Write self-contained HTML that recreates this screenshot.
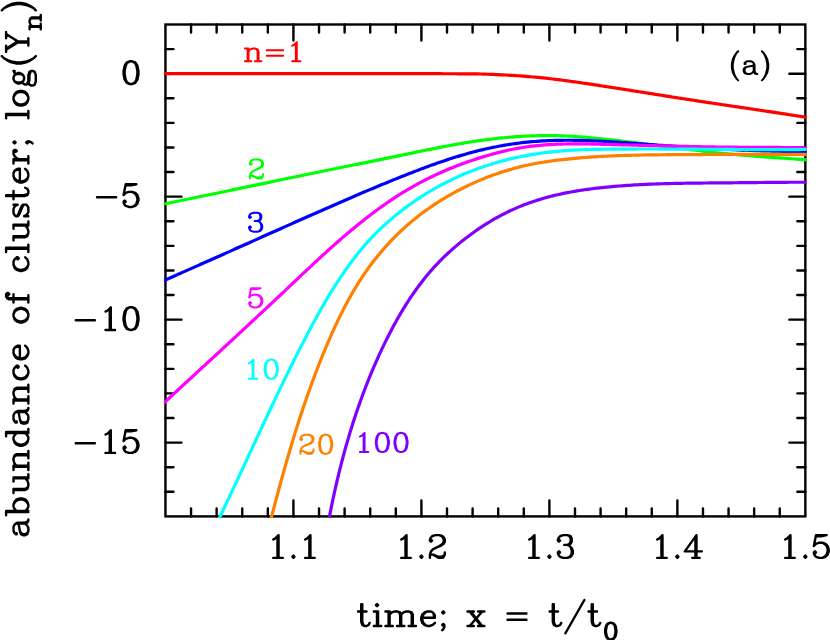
<!DOCTYPE html>
<html><head><meta charset="utf-8"><title>abundance of cluster</title>
<style>html,body{margin:0;padding:0;background:#fff;font-family:"Liberation Sans",sans-serif}svg{display:block}</style></head>
<body>
<svg width="830" height="640" viewBox="0 0 830 640">
<rect width="830" height="640" fill="#fff"/>
<g fill="none" stroke="#000" stroke-width="2.4" stroke-linecap="butt">
<rect x="165.45" y="24.5" width="639.9" height="491.9" stroke-linejoin="miter"/>
<path d="M191.05 24.5 v8 M191.05 516.4 v-8M216.64 24.5 v8 M216.64 516.4 v-8M242.24 24.5 v8 M242.24 516.4 v-8M267.83 24.5 v8 M267.83 516.4 v-8M293.43 24.5 v16 M293.43 516.4 v-16M319.03 24.5 v8 M319.03 516.4 v-8M344.62 24.5 v8 M344.62 516.4 v-8M370.22 24.5 v8 M370.22 516.4 v-8M395.81 24.5 v8 M395.81 516.4 v-8M421.41 24.5 v16 M421.41 516.4 v-16M447.01 24.5 v8 M447.01 516.4 v-8M472.6 24.5 v8 M472.6 516.4 v-8M498.2 24.5 v8 M498.2 516.4 v-8M523.79 24.5 v8 M523.79 516.4 v-8M549.39 24.5 v16 M549.39 516.4 v-16M574.99 24.5 v8 M574.99 516.4 v-8M600.58 24.5 v8 M600.58 516.4 v-8M626.18 24.5 v8 M626.18 516.4 v-8M651.77 24.5 v8 M651.77 516.4 v-8M677.37 24.5 v16 M677.37 516.4 v-16M702.97 24.5 v8 M702.97 516.4 v-8M728.56 24.5 v8 M728.56 516.4 v-8M754.16 24.5 v8 M754.16 516.4 v-8M779.75 24.5 v8 M779.75 516.4 v-8M165.45 491.8 h8 M805.35 491.8 h-8M165.45 467.21 h8 M805.35 467.21 h-8M165.45 442.61 h16 M805.35 442.61 h-16M165.45 418.02 h8 M805.35 418.02 h-8M165.45 393.42 h8 M805.35 393.42 h-8M165.45 368.83 h8 M805.35 368.83 h-8M165.45 344.24 h8 M805.35 344.24 h-8M165.45 319.64 h16 M805.35 319.64 h-16M165.45 295.05 h8 M805.35 295.05 h-8M165.45 270.45 h8 M805.35 270.45 h-8M165.45 245.85 h8 M805.35 245.85 h-8M165.45 221.26 h8 M805.35 221.26 h-8M165.45 196.66 h16 M805.35 196.66 h-16M165.45 172.07 h8 M805.35 172.07 h-8M165.45 147.47 h8 M805.35 147.47 h-8M165.45 122.88 h8 M805.35 122.88 h-8M165.45 98.28 h8 M805.35 98.28 h-8M165.45 73.69 h16 M805.35 73.69 h-16M165.45 49.09 h8 M805.35 49.09 h-8" stroke-linecap="round"/>
</g>
<defs><clipPath id="c"><rect x="164.2" y="23.25" width="642.4" height="494.4"/></clipPath></defs>
<g clip-path="url(#c)" fill="none" stroke-width="3.2" stroke-linejoin="round" stroke-linecap="butt">
<path d="M161.45 73.7 L163.94 73.7 L166.44 73.7 L168.93 73.7 L171.43 73.7 L173.92 73.7 L176.41 73.7 L178.91 73.7 L181.4 73.7 L183.9 73.7 L186.39 73.7 L188.89 73.7 L191.38 73.7 L193.87 73.7 L196.37 73.7 L198.86 73.7 L201.36 73.7 L203.85 73.7 L206.34 73.7 L208.84 73.7 L211.33 73.7 L213.83 73.7 L216.32 73.7 L218.81 73.7 L221.31 73.7 L223.8 73.7 L226.3 73.7 L228.79 73.7 L231.29 73.7 L233.78 73.7 L236.27 73.7 L238.77 73.7 L241.26 73.7 L243.76 73.7 L246.25 73.7 L248.74 73.7 L251.24 73.7 L253.73 73.7 L256.23 73.7 L258.72 73.7 L261.22 73.7 L263.71 73.7 L266.2 73.7 L268.7 73.7 L271.19 73.7 L273.69 73.7 L276.18 73.7 L278.67 73.7 L281.17 73.7 L283.66 73.7 L286.16 73.7 L288.65 73.7 L291.14 73.7 L293.64 73.7 L296.13 73.7 L298.63 73.7 L301.12 73.7 L303.62 73.7 L306.11 73.7 L308.6 73.7 L311.1 73.7 L313.59 73.7 L316.09 73.7 L318.58 73.7 L321.07 73.7 L323.57 73.7 L326.06 73.7 L328.56 73.7 L331.05 73.7 L333.54 73.7 L336.04 73.7 L338.53 73.7 L341.03 73.7 L343.52 73.7 L346.02 73.7 L348.51 73.7 L351 73.7 L353.5 73.7 L355.99 73.7 L358.49 73.7 L360.98 73.7 L363.47 73.7 L365.97 73.7 L368.46 73.7 L370.96 73.7 L373.45 73.7 L375.94 73.7 L378.44 73.7 L380.93 73.7 L383.43 73.7 L385.92 73.7 L388.42 73.7 L390.91 73.7 L393.4 73.7 L395.9 73.7 L398.39 73.7 L400.89 73.7 L403.38 73.7 L405.87 73.7 L408.37 73.7 L410.86 73.7 L413.36 73.7 L415.85 73.7 L418.35 73.7 L420.84 73.7 L423.33 73.7 L425.83 73.7 L428.32 73.7 L430.82 73.71 L433.31 73.71 L435.8 73.71 L438.3 73.72 L440.79 73.72 L443.29 73.73 L445.78 73.74 L448.28 73.74 L450.77 73.75 L453.26 73.76 L455.76 73.77 L458.25 73.78 L460.75 73.79 L463.24 73.8 L465.73 73.81 L468.23 73.82 L470.72 73.84 L473.21 73.86 L475.71 73.9 L478.2 73.95 L480.7 74.02 L483.19 74.09 L485.68 74.17 L488.18 74.26 L490.67 74.36 L493.16 74.46 L495.65 74.57 L498.15 74.68 L500.64 74.79 L503.13 74.9 L505.62 75.01 L508.11 75.14 L510.6 75.28 L513.09 75.43 L515.58 75.6 L518.07 75.77 L520.56 75.95 L523.04 76.15 L525.53 76.35 L528.02 76.55 L530.5 76.76 L532.99 76.98 L535.47 77.2 L537.95 77.43 L540.44 77.66 L542.92 77.91 L545.4 78.17 L547.87 78.44 L550.35 78.73 L552.83 79.03 L555.31 79.33 L557.78 79.64 L560.26 79.96 L562.73 80.28 L565.2 80.61 L567.68 80.94 L570.15 81.26 L572.62 81.59 L575.09 81.93 L577.56 82.27 L580.03 82.62 L582.5 82.97 L584.97 83.33 L587.44 83.7 L589.9 84.07 L592.37 84.45 L594.84 84.82 L597.3 85.2 L599.77 85.58 L602.23 85.96 L604.7 86.33 L607.16 86.71 L609.63 87.09 L612.09 87.47 L614.56 87.85 L617.02 88.23 L619.49 88.62 L621.95 89.01 L624.41 89.4 L626.88 89.79 L629.34 90.18 L631.8 90.57 L634.27 90.96 L636.73 91.35 L639.19 91.74 L641.66 92.13 L644.12 92.52 L646.58 92.91 L649.05 93.3 L651.51 93.7 L653.97 94.09 L656.44 94.48 L658.9 94.88 L661.36 95.27 L663.83 95.66 L666.29 96.05 L668.75 96.44 L671.22 96.83 L673.68 97.22 L676.14 97.61 L678.61 97.99 L681.07 98.38 L683.54 98.76 L686 99.14 L688.47 99.53 L690.93 99.91 L693.4 100.29 L695.86 100.67 L698.33 101.05 L700.79 101.42 L703.26 101.8 L705.72 102.17 L708.19 102.55 L710.65 102.92 L713.12 103.29 L715.59 103.66 L718.05 104.03 L720.52 104.39 L722.99 104.76 L725.46 105.12 L727.92 105.49 L730.39 105.85 L732.86 106.21 L735.33 106.58 L737.79 106.94 L740.26 107.31 L742.73 107.67 L745.19 108.04 L747.66 108.4 L750.13 108.77 L752.6 109.13 L755.06 109.5 L757.53 109.86 L760 110.23 L762.47 110.59 L764.93 110.96 L767.4 111.33 L769.87 111.7 L772.33 112.07 L774.8 112.44 L777.26 112.82 L779.73 113.19 L782.2 113.57 L784.66 113.95 L787.13 114.33 L789.59 114.72 L792.05 115.1 L794.52 115.48 L796.98 115.87 L799.45 116.26 L801.91 116.65 L804.37 117.04 L806.84 117.43 L809.3 117.82" stroke="#ff0000"/>
<path d="M161.5 204.53 L163.94 204.04 L166.38 203.54 L168.82 203.04 L171.27 202.55 L173.71 202.05 L176.15 201.55 L178.59 201.05 L181.03 200.55 L183.48 200.05 L185.92 199.55 L188.36 199.05 L190.8 198.55 L193.24 198.04 L195.68 197.54 L198.13 197.04 L200.57 196.53 L203.01 196.03 L205.45 195.52 L207.89 195.02 L210.33 194.51 L212.77 194 L215.22 193.5 L217.66 192.99 L220.1 192.48 L222.54 191.98 L224.98 191.47 L227.42 190.96 L229.86 190.45 L232.31 189.94 L234.75 189.44 L237.19 188.93 L239.63 188.42 L242.07 187.91 L244.51 187.4 L246.95 186.89 L249.4 186.38 L251.84 185.87 L254.28 185.37 L256.72 184.86 L259.16 184.35 L261.6 183.84 L264.04 183.33 L266.49 182.82 L268.93 182.32 L271.37 181.81 L273.81 181.3 L276.25 180.79 L278.69 180.29 L281.13 179.78 L283.58 179.27 L286.02 178.77 L288.46 178.26 L290.9 177.76 L293.34 177.25 L295.78 176.75 L298.22 176.24 L300.67 175.74 L303.11 175.24 L305.55 174.74 L307.99 174.23 L310.43 173.73 L312.87 173.23 L315.32 172.73 L317.76 172.23 L320.2 171.73 L322.64 171.24 L325.08 170.74 L327.52 170.24 L329.97 169.75 L332.41 169.25 L334.85 168.76 L337.29 168.26 L339.73 167.77 L342.17 167.27 L344.62 166.78 L347.06 166.28 L349.5 165.79 L351.94 165.3 L354.38 164.8 L356.83 164.31 L359.27 163.81 L361.71 163.32 L364.15 162.83 L366.6 162.33 L369.04 161.84 L371.48 161.34 L373.92 160.84 L376.37 160.35 L378.81 159.85 L381.25 159.35 L383.69 158.86 L386.14 158.36 L388.58 157.86 L391.02 157.36 L393.47 156.85 L395.91 156.35 L398.35 155.85 L400.8 155.34 L403.24 154.84 L405.68 154.33 L408.13 153.83 L410.57 153.32 L413.01 152.81 L415.46 152.31 L417.9 151.8 L420.35 151.3 L422.8 150.8 L425.24 150.3 L427.69 149.81 L430.14 149.32 L432.58 148.83 L435.03 148.34 L437.48 147.86 L439.93 147.38 L442.38 146.91 L444.83 146.45 L447.28 145.98 L449.74 145.53 L452.19 145.08 L454.65 144.64 L457.1 144.2 L459.56 143.77 L462.02 143.35 L464.48 142.94 L466.94 142.54 L469.4 142.14 L471.86 141.76 L474.33 141.38 L476.79 141.01 L479.26 140.66 L481.73 140.31 L484.19 139.98 L486.67 139.65 L489.14 139.34 L491.61 139.04 L494.09 138.75 L496.56 138.48 L499.04 138.21 L501.52 137.96 L504 137.72 L506.48 137.49 L508.96 137.27 L511.44 137.07 L513.93 136.87 L516.41 136.7 L518.9 136.53 L521.38 136.38 L523.87 136.24 L526.35 136.11 L528.84 136 L531.33 135.9 L533.82 135.81 L536.31 135.74 L538.8 135.69 L541.29 135.64 L543.78 135.61 L546.27 135.6 L548.76 135.6 L551.25 135.61 L553.74 135.64 L556.23 135.69 L558.72 135.74 L561.21 135.82 L563.7 135.91 L566.19 136.01 L568.68 136.13 L571.17 136.27 L573.66 136.42 L576.15 136.58 L578.63 136.75 L581.12 136.94 L583.61 137.14 L586.1 137.35 L588.58 137.56 L591.07 137.79 L593.56 138.02 L596.04 138.27 L598.53 138.51 L601.01 138.77 L603.49 139.03 L605.98 139.29 L608.46 139.56 L610.94 139.83 L613.42 140.11 L615.9 140.38 L618.38 140.66 L620.86 140.95 L623.34 141.23 L625.82 141.52 L628.3 141.81 L630.78 142.11 L633.25 142.41 L635.73 142.7 L638.21 143.01 L640.68 143.31 L643.16 143.61 L645.63 143.92 L648.11 144.23 L650.58 144.54 L653.05 144.85 L655.53 145.17 L658 145.48 L660.47 145.8 L662.95 146.11 L665.42 146.43 L667.89 146.75 L670.36 147.07 L672.84 147.38 L675.31 147.7 L677.78 148.01 L680.25 148.33 L682.72 148.64 L685.2 148.95 L687.67 149.26 L690.14 149.57 L692.61 149.87 L695.09 150.17 L697.56 150.47 L700.03 150.77 L702.51 151.06 L704.98 151.35 L707.46 151.64 L709.93 151.92 L712.41 152.2 L714.88 152.47 L717.36 152.74 L719.84 153.01 L722.32 153.26 L724.8 153.52 L727.28 153.76 L729.76 154.01 L732.24 154.24 L734.72 154.47 L737.2 154.69 L739.68 154.91 L742.17 155.12 L744.65 155.33 L747.14 155.53 L749.62 155.73 L752.11 155.92 L754.6 156.11 L757.08 156.3 L759.57 156.49 L762.06 156.67 L764.54 156.85 L767.03 157.03 L769.52 157.21 L772.01 157.38 L774.5 157.56 L776.98 157.74 L779.47 157.91 L781.96 158.09 L784.45 158.27 L786.94 158.45 L789.42 158.63 L791.91 158.81 L794.4 158.99 L796.88 159.18 L799.37 159.37 L801.85 159.56 L804.34 159.76 L806.82 159.96 L809.3 160.17" stroke="#00ff00"/>
<path d="M161.79 281.42 L164.09 280.42 L166.38 279.42 L168.67 278.42 L170.96 277.42 L173.25 276.42 L175.54 275.42 L177.83 274.41 L180.12 273.41 L182.41 272.4 L184.7 271.4 L186.99 270.39 L189.27 269.38 L191.56 268.37 L193.85 267.36 L196.13 266.35 L198.42 265.34 L200.71 264.32 L202.99 263.31 L205.28 262.3 L207.56 261.28 L209.85 260.27 L212.13 259.25 L214.41 258.24 L216.7 257.22 L218.98 256.2 L221.27 255.18 L223.55 254.17 L225.83 253.15 L228.11 252.13 L230.4 251.11 L232.68 250.09 L234.96 249.07 L237.24 248.05 L239.53 247.03 L241.81 246.01 L244.09 244.99 L246.37 243.97 L248.65 242.95 L250.93 241.93 L253.22 240.91 L255.5 239.89 L257.78 238.87 L260.06 237.85 L262.34 236.83 L264.62 235.81 L266.9 234.79 L269.18 233.77 L271.47 232.75 L273.75 231.73 L276.03 230.71 L278.31 229.7 L280.59 228.68 L282.87 227.66 L285.16 226.64 L287.44 225.62 L289.72 224.61 L292 223.59 L294.29 222.58 L296.57 221.56 L298.85 220.55 L301.13 219.53 L303.42 218.52 L305.7 217.51 L307.99 216.5 L310.27 215.48 L312.55 214.47 L314.84 213.47 L317.12 212.46 L319.41 211.45 L321.69 210.44 L323.98 209.44 L326.27 208.43 L328.55 207.43 L330.84 206.43 L333.13 205.42 L335.42 204.42 L337.71 203.43 L340 202.43 L342.29 201.43 L344.58 200.44 L346.87 199.45 L349.17 198.46 L351.46 197.47 L353.76 196.48 L356.05 195.5 L358.35 194.52 L360.65 193.54 L362.95 192.56 L365.25 191.58 L367.55 190.61 L369.86 189.64 L372.16 188.67 L374.47 187.71 L376.78 186.74 L379.09 185.78 L381.4 184.82 L383.71 183.87 L386.03 182.92 L388.34 181.97 L390.66 181.02 L392.98 180.08 L395.3 179.14 L397.63 178.21 L399.96 177.27 L402.28 176.35 L404.61 175.42 L406.95 174.5 L409.28 173.58 L411.62 172.67 L413.96 171.77 L416.3 170.87 L418.64 169.97 L420.99 169.09 L423.34 168.21 L425.69 167.33 L428.04 166.47 L430.4 165.61 L432.76 164.76 L435.12 163.92 L437.48 163.09 L439.85 162.27 L442.22 161.46 L444.59 160.66 L446.97 159.87 L449.35 159.09 L451.73 158.32 L454.11 157.57 L456.5 156.83 L458.89 156.1 L461.29 155.38 L463.68 154.68 L466.08 153.99 L468.49 153.32 L470.9 152.66 L473.31 152.01 L475.72 151.38 L478.14 150.77 L480.56 150.17 L482.98 149.59 L485.41 149.03 L487.84 148.48 L490.28 147.95 L492.72 147.44 L495.16 146.95 L497.61 146.47 L500.06 146.01 L502.51 145.57 L504.96 145.15 L507.42 144.74 L509.88 144.35 L512.34 143.98 L514.81 143.63 L517.28 143.3 L519.75 142.98 L522.22 142.69 L524.7 142.41 L527.18 142.15 L529.66 141.91 L532.14 141.69 L534.62 141.48 L537.11 141.29 L539.6 141.12 L542.09 140.96 L544.58 140.83 L547.07 140.7 L549.56 140.6 L552.06 140.5 L554.55 140.43 L557.05 140.36 L559.55 140.31 L562.04 140.28 L564.54 140.26 L567.04 140.25 L569.54 140.25 L572.04 140.27 L574.54 140.3 L577.04 140.34 L579.54 140.39 L582.04 140.45 L584.54 140.52 L587.04 140.6 L589.54 140.69 L592.05 140.79 L594.55 140.9 L597.05 141.01 L599.55 141.14 L602.05 141.27 L604.55 141.4 L607.06 141.55 L609.56 141.69 L612.06 141.85 L614.56 142.01 L617.06 142.17 L619.56 142.34 L622.06 142.51 L624.57 142.69 L627.07 142.87 L629.57 143.05 L632.07 143.23 L634.57 143.41 L637.07 143.6 L639.57 143.78 L642.06 143.97 L644.56 144.16 L647.06 144.34 L649.56 144.53 L652.06 144.71 L654.55 144.89 L657.05 145.07 L659.55 145.25 L662.04 145.43 L664.54 145.6 L667.03 145.78 L669.53 145.95 L672.02 146.12 L674.51 146.29 L677.01 146.46 L679.5 146.62 L682 146.79 L684.49 146.95 L686.98 147.11 L689.47 147.27 L691.97 147.42 L694.46 147.58 L696.95 147.73 L699.44 147.88 L701.94 148.03 L704.43 148.17 L706.92 148.31 L709.41 148.45 L711.91 148.59 L714.4 148.73 L716.89 148.86 L719.38 148.99 L721.87 149.12 L724.37 149.24 L726.86 149.37 L729.35 149.49 L731.85 149.6 L734.34 149.72 L736.83 149.83 L739.33 149.94 L741.82 150.04 L744.31 150.15 L746.81 150.25 L749.3 150.34 L751.8 150.44 L754.29 150.53 L756.79 150.61 L759.28 150.7 L761.78 150.78 L764.28 150.85 L766.78 150.93 L769.27 151 L771.77 151.07 L774.27 151.13 L776.77 151.19 L779.27 151.25 L781.77 151.3 L784.27 151.35 L786.77 151.39 L789.27 151.43 L791.78 151.47 L794.28 151.51 L796.78 151.54 L799.29 151.56 L801.79 151.58 L804.3 151.6 L806.81 151.62 L809.31 151.63" stroke="#0000ff"/>
<path d="M162.46 404.28 L164.3 402.59 L166.13 400.89 L167.96 399.2 L169.8 397.5 L171.63 395.81 L173.46 394.12 L175.3 392.42 L177.13 390.73 L178.96 389.04 L180.8 387.35 L182.63 385.65 L184.47 383.96 L186.3 382.27 L188.14 380.58 L189.97 378.89 L191.81 377.2 L193.64 375.5 L195.48 373.81 L197.31 372.12 L199.15 370.43 L200.98 368.74 L202.82 367.05 L204.66 365.35 L206.49 363.66 L208.33 361.97 L210.16 360.28 L211.99 358.59 L213.83 356.89 L215.66 355.2 L217.5 353.51 L219.33 351.82 L221.17 350.12 L223 348.43 L224.83 346.74 L226.67 345.04 L228.5 343.35 L230.33 341.65 L232.16 339.96 L233.99 338.26 L235.83 336.57 L237.66 334.87 L239.49 333.18 L241.32 331.48 L243.15 329.78 L244.98 328.08 L246.81 326.39 L248.64 324.69 L250.46 322.99 L252.29 321.29 L254.12 319.59 L255.94 317.89 L257.77 316.19 L259.6 314.48 L261.42 312.78 L263.24 311.08 L265.07 309.37 L266.89 307.67 L268.71 305.96 L270.53 304.26 L272.35 302.55 L274.17 300.84 L275.99 299.13 L277.81 297.42 L279.63 295.71 L281.45 294 L283.26 292.29 L285.08 290.58 L286.89 288.86 L288.71 287.15 L290.52 285.43 L292.33 283.72 L294.15 282 L295.96 280.29 L297.77 278.57 L299.59 276.86 L301.4 275.14 L303.22 273.43 L305.03 271.72 L306.85 270.01 L308.67 268.3 L310.49 266.6 L312.32 264.9 L314.14 263.2 L315.97 261.5 L317.8 259.8 L319.64 258.11 L321.47 256.42 L323.31 254.74 L325.16 253.06 L327.01 251.38 L328.86 249.71 L330.71 248.04 L332.57 246.38 L334.44 244.72 L336.31 243.07 L338.18 241.43 L340.06 239.79 L341.94 238.15 L343.83 236.52 L345.73 234.9 L347.63 233.29 L349.54 231.68 L351.45 230.08 L353.37 228.49 L355.3 226.9 L357.24 225.32 L359.18 223.75 L361.13 222.19 L363.08 220.64 L365.05 219.1 L367.02 217.56 L369 216.04 L370.99 214.52 L372.98 213.01 L374.98 211.52 L376.99 210.03 L379.01 208.55 L381.04 207.09 L383.07 205.63 L385.11 204.19 L387.16 202.76 L389.22 201.35 L391.29 199.95 L393.37 198.56 L395.45 197.19 L397.55 195.83 L399.66 194.5 L401.77 193.17 L403.9 191.87 L406.04 190.58 L408.18 189.31 L410.34 188.06 L412.5 186.82 L414.68 185.6 L416.86 184.4 L419.05 183.21 L421.25 182.04 L423.46 180.89 L425.68 179.75 L427.91 178.63 L430.14 177.53 L432.39 176.44 L434.64 175.37 L436.9 174.32 L439.17 173.28 L441.44 172.26 L443.73 171.26 L446.02 170.27 L448.32 169.3 L450.62 168.34 L452.94 167.4 L455.26 166.48 L457.58 165.57 L459.92 164.68 L462.26 163.81 L464.61 162.95 L466.96 162.1 L469.32 161.28 L471.69 160.46 L474.06 159.67 L476.44 158.89 L478.82 158.12 L481.21 157.37 L483.6 156.64 L486 155.92 L488.41 155.22 L490.82 154.54 L493.24 153.87 L495.66 153.22 L498.08 152.59 L500.51 151.98 L502.94 151.39 L505.38 150.82 L507.82 150.27 L510.27 149.75 L512.71 149.24 L515.17 148.76 L517.62 148.31 L520.08 147.87 L522.54 147.47 L525 147.09 L527.47 146.73 L529.94 146.4 L532.41 146.09 L534.88 145.81 L537.36 145.55 L539.83 145.31 L542.31 145.09 L544.79 144.9 L547.28 144.72 L549.76 144.57 L552.25 144.43 L554.73 144.3 L557.22 144.2 L559.71 144.11 L562.2 144.04 L564.7 143.98 L567.19 143.93 L569.69 143.9 L572.18 143.88 L574.68 143.87 L577.18 143.87 L579.67 143.88 L582.17 143.9 L584.67 143.93 L587.17 143.96 L589.67 144 L592.17 144.05 L594.67 144.1 L597.17 144.16 L599.67 144.22 L602.17 144.28 L604.67 144.35 L607.17 144.41 L609.67 144.48 L612.17 144.55 L614.67 144.61 L617.16 144.68 L619.66 144.75 L622.16 144.82 L624.65 144.88 L627.15 144.95 L629.65 145.02 L632.14 145.08 L634.64 145.15 L637.13 145.22 L639.63 145.29 L642.12 145.35 L644.62 145.42 L647.11 145.48 L649.61 145.55 L652.1 145.61 L654.6 145.68 L657.09 145.74 L659.58 145.81 L662.08 145.87 L664.57 145.93 L667.07 145.99 L669.56 146.05 L672.05 146.11 L674.55 146.17 L677.04 146.23 L679.53 146.28 L682.03 146.34 L684.52 146.39 L687.01 146.45 L689.51 146.5 L692 146.55 L694.49 146.6 L696.99 146.65 L699.48 146.7 L701.97 146.74 L704.47 146.79 L706.96 146.83 L709.46 146.87 L711.95 146.91 L714.44 146.95 L716.94 146.99 L719.43 147.02 L721.93 147.05 L724.42 147.09 L726.92 147.12 L729.42 147.14 L731.91 147.17 L734.41 147.19 L736.91 147.21 L739.4 147.23 L741.9 147.25 L744.4 147.27 L746.9 147.29 L749.39 147.3 L751.89 147.32 L754.39 147.33 L756.89 147.34 L759.38 147.36 L761.88 147.37 L764.38 147.38 L766.88 147.39 L769.38 147.41 L771.87 147.42 L774.37 147.44 L776.87 147.45 L779.36 147.47 L781.86 147.49 L784.36 147.5 L786.85 147.52 L789.35 147.55 L791.84 147.57 L794.34 147.6 L796.83 147.63 L799.33 147.66 L801.82 147.69 L804.32 147.73 L806.81 147.77 L809.3 147.81" stroke="#ff00ff"/>
<path d="M215.95 524.97 L217.04 522.72 L218.13 520.47 L219.21 518.22 L220.3 515.97 L221.38 513.72 L222.46 511.46 L223.54 509.21 L224.61 506.95 L225.69 504.7 L226.76 502.44 L227.83 500.18 L228.9 497.92 L229.96 495.66 L231.03 493.4 L232.09 491.15 L233.16 488.88 L234.22 486.62 L235.28 484.36 L236.34 482.1 L237.39 479.84 L238.45 477.58 L239.51 475.31 L240.56 473.05 L241.61 470.79 L242.67 468.52 L243.72 466.26 L244.77 464 L245.83 461.73 L246.88 459.47 L247.93 457.21 L248.98 454.94 L250.03 452.68 L251.08 450.41 L252.13 448.15 L253.18 445.89 L254.24 443.62 L255.29 441.36 L256.34 439.1 L257.39 436.83 L258.45 434.57 L259.5 432.31 L260.55 430.05 L261.61 427.79 L262.67 425.52 L263.72 423.26 L264.78 421 L265.84 418.74 L266.9 416.48 L267.96 414.23 L269.03 411.97 L270.09 409.71 L271.16 407.45 L272.22 405.2 L273.29 402.94 L274.36 400.69 L275.44 398.44 L276.51 396.18 L277.59 393.93 L278.67 391.68 L279.75 389.43 L280.83 387.18 L281.92 384.93 L283.01 382.69 L284.1 380.44 L285.19 378.2 L286.28 375.95 L287.38 373.71 L288.48 371.47 L289.59 369.23 L290.69 366.99 L291.8 364.75 L292.92 362.52 L294.03 360.28 L295.15 358.05 L296.28 355.82 L297.4 353.59 L298.53 351.36 L299.67 349.13 L300.8 346.9 L301.94 344.68 L303.09 342.46 L304.24 340.24 L305.39 338.02 L306.55 335.8 L307.71 333.58 L308.87 331.37 L310.04 329.16 L311.22 326.95 L312.4 324.75 L313.59 322.55 L314.78 320.35 L315.98 318.15 L317.19 315.96 L318.41 313.78 L319.63 311.6 L320.86 309.42 L322.09 307.25 L323.34 305.08 L324.59 302.92 L325.86 300.76 L327.13 298.61 L328.41 296.47 L329.7 294.33 L331 292.2 L332.32 290.08 L333.64 287.96 L334.97 285.85 L336.32 283.75 L337.67 281.65 L339.04 279.57 L340.42 277.49 L341.81 275.42 L343.22 273.36 L344.64 271.31 L346.07 269.27 L347.51 267.23 L348.97 265.21 L350.45 263.2 L351.93 261.2 L353.44 259.21 L354.96 257.23 L356.49 255.27 L358.04 253.32 L359.61 251.38 L361.19 249.46 L362.79 247.55 L364.41 245.66 L366.05 243.79 L367.71 241.93 L369.38 240.08 L371.07 238.26 L372.79 236.45 L374.52 234.66 L376.27 232.89 L378.04 231.14 L379.82 229.4 L381.63 227.69 L383.45 225.98 L385.29 224.3 L387.14 222.63 L389.02 220.98 L390.9 219.35 L392.81 217.73 L394.73 216.13 L396.66 214.55 L398.61 212.98 L400.58 211.43 L402.55 209.9 L404.55 208.39 L406.56 206.89 L408.58 205.42 L410.61 203.96 L412.66 202.51 L414.72 201.09 L416.8 199.68 L418.89 198.3 L420.99 196.93 L423.1 195.58 L425.23 194.24 L427.36 192.93 L429.51 191.63 L431.67 190.36 L433.85 189.1 L436.03 187.86 L438.22 186.64 L440.43 185.45 L442.64 184.27 L444.86 183.11 L447.1 181.96 L449.34 180.84 L451.6 179.74 L453.86 178.66 L456.13 177.6 L458.41 176.56 L460.7 175.54 L463 174.54 L465.3 173.56 L467.62 172.6 L469.94 171.66 L472.27 170.75 L474.6 169.85 L476.95 168.97 L479.29 168.12 L481.65 167.29 L484.01 166.47 L486.38 165.68 L488.75 164.91 L491.13 164.17 L493.52 163.44 L495.91 162.73 L498.31 162.05 L500.71 161.38 L503.12 160.73 L505.53 160.11 L507.94 159.5 L510.37 158.92 L512.79 158.35 L515.22 157.8 L517.66 157.28 L520.1 156.77 L522.54 156.28 L524.99 155.81 L527.44 155.35 L529.89 154.92 L532.35 154.5 L534.81 154.11 L537.27 153.73 L539.74 153.36 L542.21 153.02 L544.68 152.69 L547.16 152.38 L549.63 152.09 L552.11 151.81 L554.6 151.55 L557.08 151.31 L559.57 151.09 L562.06 150.88 L564.55 150.68 L567.04 150.51 L569.53 150.34 L572.02 150.2 L574.52 150.06 L577.01 149.94 L579.51 149.83 L582.01 149.74 L584.51 149.65 L587.01 149.57 L589.51 149.5 L592.01 149.45 L594.51 149.39 L597.01 149.35 L599.51 149.31 L602.01 149.27 L604.51 149.24 L607.02 149.21 L609.52 149.18 L612.02 149.16 L614.52 149.14 L617.02 149.12 L619.52 149.1 L622.02 149.08 L624.52 149.07 L627.02 149.06 L629.52 149.04 L632.02 149.04 L634.51 149.03 L637.01 149.02 L639.51 149.02 L642.01 149.01 L644.51 149.01 L647.01 149.01 L649.5 149.01 L652 149.02 L654.5 149.02 L657 149.02 L659.49 149.03 L661.99 149.04 L664.49 149.05 L666.99 149.05 L669.48 149.06 L671.98 149.07 L674.48 149.09 L676.97 149.1 L679.47 149.11 L681.96 149.13 L684.46 149.14 L686.96 149.15 L689.45 149.17 L691.95 149.19 L694.45 149.2 L696.94 149.22 L699.44 149.23 L701.93 149.25 L704.43 149.27 L706.92 149.29 L709.42 149.3 L711.92 149.32 L714.41 149.34 L716.91 149.35 L719.4 149.37 L721.9 149.39 L724.4 149.41 L726.89 149.42 L729.39 149.44 L731.88 149.45 L734.38 149.47 L736.88 149.48 L739.37 149.5 L741.87 149.51 L744.36 149.52 L746.86 149.54 L749.36 149.55 L751.85 149.56 L754.35 149.57 L756.85 149.58 L759.34 149.58 L761.84 149.59 L764.34 149.6 L766.83 149.6 L769.33 149.6 L771.83 149.61 L774.33 149.61 L776.82 149.61 L779.32 149.61 L781.82 149.6 L784.32 149.6 L786.82 149.59 L789.31 149.58 L791.81 149.57 L794.31 149.56 L796.81 149.55 L799.31 149.53 L801.81 149.52 L804.31 149.5 L806.81 149.48 L809.31 149.46" stroke="#00ffff"/>
<path d="M269.41 524.96 L270.04 522.54 L270.66 520.13 L271.29 517.71 L271.92 515.3 L272.55 512.88 L273.18 510.47 L273.82 508.06 L274.45 505.64 L275.09 503.23 L275.73 500.82 L276.37 498.41 L277.02 496 L277.67 493.59 L278.31 491.19 L278.97 488.78 L279.62 486.37 L280.28 483.97 L280.94 481.56 L281.6 479.16 L282.27 476.76 L282.94 474.35 L283.61 471.95 L284.29 469.55 L284.97 467.15 L285.65 464.76 L286.33 462.36 L287.02 459.97 L287.72 457.57 L288.41 455.18 L289.12 452.79 L289.82 450.4 L290.53 448.01 L291.24 445.62 L291.96 443.24 L292.68 440.85 L293.41 438.47 L294.14 436.09 L294.87 433.71 L295.61 431.33 L296.36 428.95 L297.11 426.57 L297.86 424.2 L298.62 421.83 L299.38 419.46 L300.15 417.09 L300.93 414.72 L301.71 412.36 L302.49 410 L303.28 407.63 L304.08 405.27 L304.88 402.92 L305.69 400.56 L306.5 398.21 L307.32 395.86 L308.15 393.51 L308.98 391.16 L309.82 388.81 L310.66 386.47 L311.51 384.13 L312.37 381.79 L313.23 379.45 L314.11 377.12 L314.98 374.79 L315.87 372.46 L316.76 370.13 L317.66 367.81 L318.56 365.48 L319.47 363.16 L320.39 360.85 L321.32 358.53 L322.25 356.22 L323.2 353.91 L324.14 351.6 L325.1 349.3 L326.07 347 L327.04 344.7 L328.02 342.4 L329.01 340.11 L330.01 337.82 L331.01 335.53 L332.03 333.24 L333.05 330.96 L334.08 328.69 L335.13 326.42 L336.18 324.15 L337.25 321.89 L338.33 319.64 L339.41 317.39 L340.51 315.15 L341.63 312.91 L342.75 310.68 L343.89 308.46 L345.04 306.24 L346.2 304.04 L347.38 301.84 L348.57 299.65 L349.78 297.47 L351 295.3 L352.24 293.13 L353.49 290.98 L354.76 288.84 L356.05 286.71 L357.35 284.58 L358.67 282.47 L360.01 280.38 L361.36 278.29 L362.74 276.21 L364.13 274.15 L365.54 272.1 L366.97 270.06 L368.42 268.04 L369.88 266.03 L371.37 264.03 L372.88 262.05 L374.4 260.08 L375.95 258.13 L377.51 256.19 L379.09 254.26 L380.7 252.35 L382.31 250.46 L383.95 248.58 L385.61 246.72 L387.28 244.87 L388.97 243.04 L390.68 241.22 L392.41 239.42 L394.15 237.64 L395.91 235.88 L397.69 234.13 L399.48 232.4 L401.3 230.69 L403.12 229 L404.97 227.32 L406.83 225.66 L408.71 224.02 L410.61 222.4 L412.52 220.8 L414.44 219.22 L416.38 217.66 L418.34 216.11 L420.31 214.59 L422.3 213.08 L424.3 211.59 L426.32 210.13 L428.35 208.68 L430.4 207.25 L432.46 205.84 L434.53 204.45 L436.61 203.08 L438.71 201.74 L440.82 200.41 L442.95 199.09 L445.08 197.8 L447.23 196.53 L449.39 195.28 L451.56 194.05 L453.75 192.84 L455.94 191.65 L458.14 190.48 L460.36 189.33 L462.58 188.2 L464.82 187.09 L467.07 186 L469.32 184.93 L471.58 183.88 L473.86 182.85 L476.14 181.84 L478.43 180.85 L480.73 179.88 L483.04 178.94 L485.35 178.01 L487.68 177.11 L490.01 176.22 L492.35 175.36 L494.69 174.51 L497.05 173.69 L499.41 172.89 L501.77 172.11 L504.15 171.35 L506.53 170.61 L508.91 169.89 L511.3 169.2 L513.7 168.52 L516.11 167.87 L518.52 167.24 L520.93 166.63 L523.35 166.05 L525.78 165.49 L528.21 164.96 L530.65 164.45 L533.09 163.96 L535.54 163.49 L537.99 163.05 L540.45 162.62 L542.9 162.22 L545.37 161.83 L547.83 161.46 L550.3 161.11 L552.77 160.77 L555.24 160.45 L557.72 160.14 L560.2 159.85 L562.68 159.57 L565.15 159.3 L567.63 159.04 L570.12 158.79 L572.6 158.55 L575.08 158.32 L577.56 158.1 L580.05 157.88 L582.53 157.68 L585.01 157.49 L587.5 157.3 L589.99 157.13 L592.47 156.96 L594.96 156.8 L597.45 156.65 L599.93 156.5 L602.42 156.37 L604.91 156.24 L607.4 156.11 L609.89 156 L612.38 155.89 L614.87 155.79 L617.36 155.69 L619.85 155.6 L622.34 155.51 L624.83 155.43 L627.33 155.36 L629.82 155.29 L632.31 155.23 L634.8 155.17 L637.3 155.11 L639.79 155.06 L642.28 155.01 L644.78 154.97 L647.27 154.93 L649.76 154.89 L652.26 154.86 L654.75 154.83 L657.24 154.8 L659.74 154.77 L662.23 154.75 L664.73 154.73 L667.22 154.71 L669.71 154.69 L672.21 154.68 L674.7 154.66 L677.2 154.65 L679.69 154.64 L682.18 154.62 L684.68 154.61 L687.17 154.6 L689.67 154.59 L692.16 154.58 L694.65 154.57 L697.14 154.55 L699.64 154.54 L702.13 154.53 L704.62 154.51 L707.11 154.5 L709.61 154.49 L712.1 154.48 L714.59 154.46 L717.08 154.45 L719.57 154.44 L722.07 154.42 L724.56 154.41 L727.05 154.4 L729.54 154.39 L732.03 154.38 L734.52 154.37 L737.02 154.36 L739.51 154.35 L742 154.34 L744.49 154.33 L746.98 154.32 L749.47 154.32 L751.96 154.31 L754.46 154.31 L756.95 154.3 L759.44 154.3 L761.93 154.3 L764.42 154.3 L766.92 154.3 L769.41 154.3 L771.9 154.3 L774.39 154.31 L776.88 154.31 L779.38 154.32 L781.87 154.33 L784.36 154.34 L786.86 154.35 L789.35 154.36 L791.84 154.38 L794.34 154.39 L796.83 154.41 L799.32 154.43 L801.82 154.45 L804.31 154.47 L806.81 154.5 L809.3 154.53" stroke="#ff8000"/>
<path d="M327.88 524.9 L328.33 522.45 L328.79 520 L329.26 517.56 L329.73 515.11 L330.21 512.66 L330.7 510.22 L331.19 507.77 L331.69 505.33 L332.2 502.88 L332.71 500.44 L333.23 498 L333.76 495.56 L334.29 493.12 L334.83 490.68 L335.37 488.24 L335.93 485.8 L336.49 483.37 L337.05 480.93 L337.63 478.5 L338.21 476.07 L338.8 473.64 L339.4 471.21 L340 468.79 L340.61 466.36 L341.23 463.94 L341.86 461.52 L342.49 459.1 L343.13 456.68 L343.78 454.27 L344.44 451.86 L345.1 449.45 L345.78 447.04 L346.46 444.63 L347.15 442.23 L347.85 439.83 L348.55 437.43 L349.27 435.03 L349.99 432.64 L350.72 430.25 L351.46 427.86 L352.21 425.47 L352.96 423.09 L353.73 420.71 L354.5 418.33 L355.29 415.96 L356.08 413.58 L356.88 411.22 L357.69 408.85 L358.51 406.49 L359.33 404.13 L360.17 401.77 L361.02 399.42 L361.87 397.07 L362.74 394.73 L363.61 392.39 L364.49 390.05 L365.39 387.72 L366.29 385.38 L367.2 383.06 L368.13 380.74 L369.06 378.42 L370 376.1 L370.95 373.79 L371.91 371.48 L372.89 369.18 L373.87 366.88 L374.86 364.59 L375.86 362.3 L376.88 360.01 L377.9 357.73 L378.93 355.45 L379.98 353.18 L381.03 350.91 L382.1 348.65 L383.17 346.39 L384.26 344.14 L385.36 341.89 L386.47 339.65 L387.59 337.41 L388.72 335.18 L389.86 332.95 L391.02 330.73 L392.18 328.52 L393.36 326.31 L394.56 324.11 L395.76 321.92 L396.98 319.74 L398.21 317.56 L399.46 315.39 L400.72 313.24 L402 311.09 L403.29 308.95 L404.6 306.82 L405.92 304.71 L407.26 302.6 L408.61 300.5 L409.98 298.42 L411.37 296.35 L412.78 294.29 L414.2 292.24 L415.64 290.21 L417.09 288.19 L418.57 286.18 L420.06 284.19 L421.57 282.21 L423.11 280.24 L424.66 278.29 L426.23 276.36 L427.82 274.44 L429.43 272.54 L431.06 270.65 L432.71 268.79 L434.38 266.93 L436.08 265.1 L437.79 263.28 L439.53 261.49 L441.28 259.7 L443.06 257.94 L444.86 256.2 L446.67 254.47 L448.5 252.76 L450.35 251.07 L452.22 249.4 L454.11 247.74 L456.01 246.1 L457.93 244.49 L459.87 242.89 L461.82 241.3 L463.78 239.74 L465.76 238.2 L467.75 236.67 L469.76 235.16 L471.78 233.68 L473.82 232.21 L475.87 230.77 L477.93 229.34 L480.01 227.94 L482.1 226.56 L484.2 225.19 L486.32 223.86 L488.45 222.54 L490.59 221.25 L492.75 219.98 L494.92 218.73 L497.1 217.51 L499.29 216.31 L501.49 215.13 L503.71 213.98 L505.94 212.86 L508.17 211.76 L510.43 210.68 L512.69 209.64 L514.96 208.61 L517.24 207.62 L519.54 206.65 L521.84 205.71 L524.16 204.8 L526.48 203.92 L528.82 203.06 L531.16 202.23 L533.52 201.43 L535.88 200.65 L538.25 199.9 L540.63 199.17 L543.02 198.47 L545.42 197.79 L547.82 197.14 L550.23 196.51 L552.65 195.9 L555.08 195.31 L557.51 194.75 L559.95 194.2 L562.39 193.68 L564.84 193.17 L567.29 192.69 L569.75 192.22 L572.22 191.77 L574.68 191.34 L577.15 190.93 L579.63 190.53 L582.11 190.15 L584.59 189.78 L587.07 189.43 L589.56 189.1 L592.05 188.77 L594.54 188.46 L597.03 188.17 L599.52 187.88 L602.02 187.61 L604.51 187.35 L607.01 187.1 L609.5 186.86 L612 186.63 L614.49 186.41 L616.98 186.2 L619.48 186 L621.97 185.81 L624.47 185.62 L626.96 185.45 L629.46 185.28 L631.95 185.12 L634.45 184.97 L636.94 184.83 L639.43 184.69 L641.93 184.56 L644.42 184.44 L646.92 184.33 L649.41 184.22 L651.91 184.12 L654.4 184.02 L656.89 183.93 L659.39 183.84 L661.88 183.76 L664.38 183.69 L666.87 183.62 L669.37 183.56 L671.86 183.5 L674.36 183.44 L676.85 183.39 L679.35 183.34 L681.85 183.3 L684.34 183.25 L686.84 183.22 L689.33 183.18 L691.83 183.15 L694.33 183.12 L696.82 183.09 L699.32 183.06 L701.82 183.04 L704.31 183.01 L706.81 182.99 L709.31 182.97 L711.81 182.95 L714.31 182.93 L716.8 182.91 L719.3 182.89 L721.8 182.88 L724.3 182.86 L726.8 182.84 L729.3 182.82 L731.8 182.79 L734.3 182.77 L736.8 182.75 L739.3 182.72 L741.8 182.7 L744.31 182.67 L746.81 182.64 L749.31 182.62 L751.81 182.59 L754.31 182.56 L756.81 182.53 L759.32 182.51 L761.82 182.48 L764.32 182.46 L766.82 182.43 L769.32 182.41 L771.82 182.38 L774.32 182.36 L776.83 182.34 L779.33 182.33 L781.83 182.31 L784.33 182.29 L786.83 182.28 L789.33 182.27 L791.82 182.27 L794.32 182.26 L796.82 182.26 L799.32 182.26 L801.81 182.26 L804.31 182.27 L806.81 182.28 L809.3 182.3" stroke="#8000ff"/>
</g>
<path d="M273.23 539.49 L275.36 538.41 L278.55 535.17 L278.55 557.85M277.49 536.25 L277.49 557.85M273.23 557.85 L282.8 557.85M293.43 555.69 L292.37 556.77 L293.43 557.85 L294.49 556.77 L293.43 555.69M305.12 539.49 L307.25 538.41 L310.44 535.17 L310.44 557.85M309.38 536.25 L309.38 557.85M305.12 557.85 L314.69 557.85" fill="none" stroke="#000" stroke-width="2.4" stroke-linecap="round" stroke-linejoin="round"/>
<path d="M401.21 539.49 L403.34 538.41 L406.53 535.17 L406.53 557.85M405.47 536.25 L405.47 557.85M401.21 557.85 L410.78 557.85M421.41 555.69 L420.35 556.77 L421.41 557.85 L422.47 556.77 L421.41 555.69M430.98 539.49 L432.04 540.57 L430.98 541.65 L429.91 540.57 L429.91 539.49 L430.98 537.33 L432.04 536.25 L435.23 535.17 L439.48 535.17 L442.67 536.25 L443.73 537.33 L444.8 539.49 L444.8 541.65 L443.73 543.81 L440.54 545.97 L435.23 548.13 L433.1 549.21 L430.98 551.37 L429.91 554.61 L429.91 557.85M439.48 535.17 L441.61 536.25 L442.67 537.33 L443.73 539.49 L443.73 541.65 L442.67 543.81 L439.48 545.97 L435.23 548.13M429.91 555.69 L430.98 554.61 L433.1 554.61 L438.42 556.77 L441.61 556.77 L443.73 555.69 L444.8 554.61M433.1 554.61 L438.42 557.85 L442.67 557.85 L443.73 556.77 L444.8 554.61 L444.8 552.45" fill="none" stroke="#000" stroke-width="2.4" stroke-linecap="round" stroke-linejoin="round"/>
<path d="M529.19 539.49 L531.32 538.41 L534.51 535.17 L534.51 557.85M533.45 536.25 L533.45 557.85M529.19 557.85 L538.76 557.85M549.39 555.69 L548.33 556.77 L549.39 557.85 L550.45 556.77 L549.39 555.69M558.96 539.49 L560.02 540.57 L558.96 541.65 L557.89 540.57 L557.89 539.49 L558.96 537.33 L560.02 536.25 L563.21 535.17 L567.46 535.17 L570.65 536.25 L571.71 538.41 L571.71 541.65 L570.65 543.81 L567.46 544.89 L564.27 544.89M567.46 535.17 L569.59 536.25 L570.65 538.41 L570.65 541.65 L569.59 543.81 L567.46 544.89M567.46 544.89 L569.59 545.97 L571.71 548.13 L572.78 550.29 L572.78 553.53 L571.71 555.69 L570.65 556.77 L567.46 557.85 L563.21 557.85 L560.02 556.77 L558.96 555.69 L557.89 553.53 L557.89 552.45 L558.96 551.37 L560.02 552.45 L558.96 553.53M570.65 547.05 L571.71 550.29 L571.71 553.53 L570.65 555.69 L569.59 556.77 L567.46 557.85" fill="none" stroke="#000" stroke-width="2.4" stroke-linecap="round" stroke-linejoin="round"/>
<path d="M657.17 539.49 L659.3 538.41 L662.49 535.17 L662.49 557.85M661.43 536.25 L661.43 557.85M657.17 557.85 L666.74 557.85M677.37 555.69 L676.31 556.77 L677.37 557.85 L678.43 556.77 L677.37 555.69M695.44 537.33 L695.44 557.85M696.5 535.17 L696.5 557.85M696.5 535.17 L684.81 551.37 L701.82 551.37M692.25 557.85 L699.69 557.85" fill="none" stroke="#000" stroke-width="2.4" stroke-linecap="round" stroke-linejoin="round"/>
<path d="M785.15 539.49 L787.28 538.41 L790.47 535.17 L790.47 557.85M789.41 536.25 L789.41 557.85M785.15 557.85 L794.72 557.85M805.35 555.69 L804.29 556.77 L805.35 557.85 L806.41 556.77 L805.35 555.69M815.98 535.17 L813.85 545.97M813.85 545.97 L815.98 543.81 L819.17 542.73 L822.36 542.73 L825.55 543.81 L827.67 545.97 L828.74 549.21 L828.74 551.37 L827.67 554.61 L825.55 556.77 L822.36 557.85 L819.17 557.85 L815.98 556.77 L814.92 555.69 L813.85 553.53 L813.85 552.45 L814.92 551.37 L815.98 552.45 L814.92 553.53M822.36 542.73 L824.48 543.81 L826.61 545.97 L827.67 549.21 L827.67 551.37 L826.61 554.61 L824.48 556.77 L822.36 557.85M815.98 535.17 L826.61 535.17M815.98 536.25 L821.3 536.25 L826.61 535.17" fill="none" stroke="#000" stroke-width="2.4" stroke-linecap="round" stroke-linejoin="round"/>
<path d="M129.96 61.31 L126.77 62.39 L124.64 65.63 L123.58 71.03 L123.58 74.27 L124.64 79.67 L126.77 82.91 L129.96 83.99 L132.08 83.99 L135.27 82.91 L137.4 79.67 L138.46 74.27 L138.46 71.03 L137.4 65.63 L135.27 62.39 L132.08 61.31 L129.96 61.31M129.96 61.31 L127.83 62.39 L126.77 63.47 L125.71 65.63 L124.64 71.03 L124.64 74.27 L125.71 79.67 L126.77 81.83 L127.83 82.91 L129.96 83.99M132.08 83.99 L134.21 82.91 L135.27 81.83 L136.34 79.67 L137.4 74.27 L137.4 71.03 L136.34 65.63 L135.27 63.47 L134.21 62.39 L132.08 61.31" fill="none" stroke="#000" stroke-width="2.4" stroke-linecap="round" stroke-linejoin="round"/>
<path d="M97 197.25 L116.14 197.25M125.71 184.28 L123.58 195.09M123.58 195.09 L125.71 192.93 L128.89 191.84 L132.08 191.84 L135.27 192.93 L137.4 195.09 L138.46 198.32 L138.46 200.49 L137.4 203.72 L135.27 205.88 L132.08 206.97 L128.89 206.97 L125.71 205.88 L124.64 204.81 L123.58 202.65 L123.58 201.56 L124.64 200.49 L125.71 201.56 L124.64 202.65M132.08 191.84 L134.21 192.93 L136.34 195.09 L137.4 198.32 L137.4 200.49 L136.34 203.72 L134.21 205.88 L132.08 206.97M125.71 184.28 L136.34 184.28M125.71 185.37 L131.02 185.37 L136.34 184.28" fill="none" stroke="#000" stroke-width="2.4" stroke-linecap="round" stroke-linejoin="round"/>
<path d="M75.74 320.22 L94.88 320.22M105.51 311.58 L107.63 310.5 L110.82 307.26 L110.82 329.94M109.76 308.34 L109.76 329.94M105.51 329.94 L115.07 329.94M129.96 307.26 L126.77 308.34 L124.64 311.58 L123.58 316.98 L123.58 320.22 L124.64 325.62 L126.77 328.86 L129.96 329.94 L132.08 329.94 L135.27 328.86 L137.4 325.62 L138.46 320.22 L138.46 316.98 L137.4 311.58 L135.27 308.34 L132.08 307.26 L129.96 307.26M129.96 307.26 L127.83 308.34 L126.77 309.42 L125.7 311.58 L124.64 316.98 L124.64 320.22 L125.7 325.62 L126.77 327.78 L127.83 328.86 L129.96 329.94M132.08 329.94 L134.21 328.86 L135.27 327.78 L136.33 325.62 L137.4 320.22 L137.4 316.98 L136.33 311.58 L135.27 309.42 L134.21 308.34 L132.08 307.26" fill="none" stroke="#000" stroke-width="2.4" stroke-linecap="round" stroke-linejoin="round"/>
<path d="M75.74 443.19 L94.88 443.19M105.51 434.55 L107.63 433.47 L110.82 430.23 L110.82 452.91M109.76 431.31 L109.76 452.91M105.51 452.91 L115.07 452.91M125.7 430.23 L123.58 441.03M123.58 441.03 L125.7 438.87 L128.89 437.79 L132.08 437.79 L135.27 438.87 L137.4 441.03 L138.46 444.27 L138.46 446.43 L137.4 449.67 L135.27 451.83 L132.08 452.91 L128.89 452.91 L125.7 451.83 L124.64 450.75 L123.58 448.59 L123.58 447.51 L124.64 446.43 L125.7 447.51 L124.64 448.59M132.08 437.79 L134.21 438.87 L136.33 441.03 L137.4 444.27 L137.4 446.43 L136.33 449.67 L134.21 451.83 L132.08 452.91M125.7 430.23 L136.33 430.23M125.7 431.31 L131.02 431.31 L136.33 430.23" fill="none" stroke="#000" stroke-width="2.4" stroke-linecap="round" stroke-linejoin="round"/>
<path d="M361.21 604.16 L361.21 621.84 L362.27 624.96 L364.37 626 L366.48 626 L368.58 624.96 L369.63 622.88M362.27 604.16 L362.27 621.84 L363.32 624.96 L364.37 626M358.06 611.44 L366.48 611.44M377 604.16 L375.95 605.2 L377 606.24 L378.05 605.2 L377 604.16M377 611.44 L377 626M378.05 611.44 L378.05 626M373.84 611.44 L378.05 611.44M373.84 626 L381.21 626M388.58 611.44 L388.58 626M389.63 611.44 L389.63 626M389.63 614.56 L391.74 612.48 L394.9 611.44 L397 611.44 L400.16 612.48 L401.21 614.56 L401.21 626M397 611.44 L399.11 612.48 L400.16 614.56 L400.16 626M401.21 614.56 L403.32 612.48 L406.47 611.44 L408.58 611.44 L411.74 612.48 L412.79 614.56 L412.79 626M408.58 611.44 L410.69 612.48 L411.74 614.56 L411.74 626M385.42 611.44 L389.63 611.44M385.42 626 L392.79 626M397 626 L404.37 626M408.58 626 L415.95 626M422.26 617.68 L434.89 617.68 L434.89 615.6 L433.84 613.52 L432.79 612.48 L430.68 611.44 L427.53 611.44 L424.37 612.48 L422.26 614.56 L421.21 617.68 L421.21 619.76 L422.26 622.88 L424.37 624.96 L427.53 626 L429.63 626 L432.79 624.96 L434.89 622.88M433.84 617.68 L433.84 614.56 L432.79 612.48M427.53 611.44 L425.42 612.48 L423.32 614.56 L422.26 617.68 L422.26 619.76 L423.32 622.88 L425.42 624.96 L427.53 626M443.32 611.44 L442.26 612.48 L443.32 613.52 L444.37 612.48 L443.32 611.44M443.32 626 L442.26 624.96 L443.32 623.92 L444.37 624.96 L444.37 627.04 L443.32 629.12 L442.26 630.16M469.63 611.44 L481.21 626M470.68 611.44 L482.26 626M482.26 611.44 L469.63 626M467.53 611.44 L473.84 611.44M478.05 611.44 L484.37 611.44M467.53 626 L473.84 626M478.05 626 L484.37 626M507.52 613.52 L526.47 613.52M507.52 619.76 L526.47 619.76M552.79 604.16 L552.79 621.84 L553.84 624.96 L555.94 626 L558.05 626 L560.15 624.96 L561.21 622.88M553.84 604.16 L553.84 621.84 L554.89 624.96 L555.94 626M549.63 611.44 L558.05 611.44M584.36 600 L565.42 633.28M591.73 604.16 L591.73 621.84 L592.78 624.96 L594.89 626 L597 626 L599.1 624.96 L600.15 622.88M592.78 604.16 L592.78 621.84 L593.84 624.96 L594.89 626M588.57 611.44 L597 611.44M609.96 622.8 L607.56 623.59 L605.96 625.96 L605.16 629.92 L605.16 632.29 L605.96 636.24 L607.56 638.61 L609.96 639.4 L611.56 639.4 L613.96 638.61 L615.56 636.24 L616.36 632.29 L616.36 629.92 L615.56 625.96 L613.96 623.59 L611.56 622.8 L609.96 622.8M609.96 622.8 L608.36 623.59 L607.56 624.38 L606.76 625.96 L605.96 629.92 L605.96 632.29 L606.76 636.24 L607.56 637.82 L608.36 638.61 L609.96 639.4M611.56 639.4 L613.16 638.61 L613.96 637.82 L614.76 636.24 L615.56 632.29 L615.56 629.92 L614.76 625.96 L613.96 624.38 L613.16 623.59 L611.56 622.8" fill="none" stroke="#000" stroke-width="2.4" stroke-linecap="round" stroke-linejoin="round"/>
<path d="M5.26 -12.72 L5.26 -11.66 L4.21 -11.66 L4.21 -12.72 L5.26 -13.78 L7.37 -14.84 L11.58 -14.84 L13.69 -13.78 L14.74 -12.72 L15.79 -10.6 L15.79 -3.18 L16.85 -1.06 L17.9 0M14.74 -12.72 L14.74 -3.18 L15.79 -1.06 L17.9 0 L18.95 0M14.74 -10.6 L13.69 -9.54 L7.37 -8.48 L4.21 -7.42 L3.16 -5.3 L3.16 -3.18 L4.21 -1.06 L7.37 0 L10.53 0 L12.64 -1.06 L14.74 -3.18M7.37 -8.48 L5.26 -7.42 L4.21 -5.3 L4.21 -3.18 L5.26 -1.06 L7.37 0M26.32 -22.26 L26.32 0M27.38 -22.26 L27.38 0M27.38 -11.66 L29.48 -13.78 L31.59 -14.84 L33.7 -14.84 L36.85 -13.78 L38.96 -11.66 L40.01 -8.48 L40.01 -6.36 L38.96 -3.18 L36.85 -1.06 L33.7 0 L31.59 0 L29.48 -1.06 L27.38 -3.18M33.7 -14.84 L35.8 -13.78 L37.91 -11.66 L38.96 -8.48 L38.96 -6.36 L37.91 -3.18 L35.8 -1.06 L33.7 0M23.17 -22.26 L27.38 -22.26M48.44 -14.84 L48.44 -3.18 L49.49 -1.06 L52.65 0 L54.76 0 L57.91 -1.06 L60.02 -3.18M49.49 -14.84 L49.49 -3.18 L50.54 -1.06 L52.65 0M60.02 -14.84 L60.02 0M61.07 -14.84 L61.07 0M45.28 -14.84 L49.49 -14.84M56.86 -14.84 L61.07 -14.84M60.02 0 L64.23 0M71.6 -14.84 L71.6 0M72.66 -14.84 L72.66 0M72.66 -11.66 L74.76 -13.78 L77.92 -14.84 L80.03 -14.84 L83.19 -13.78 L84.24 -11.66 L84.24 0M80.03 -14.84 L82.13 -13.78 L83.19 -11.66 L83.19 0M68.44 -14.84 L72.66 -14.84M68.44 0 L75.82 0M80.03 0 L87.4 0M105.3 -22.26 L105.3 0M106.35 -22.26 L106.35 0M105.3 -11.66 L103.19 -13.78 L101.09 -14.84 L98.98 -14.84 L95.82 -13.78 L93.72 -11.66 L92.66 -8.48 L92.66 -6.36 L93.72 -3.18 L95.82 -1.06 L98.98 0 L101.09 0 L103.19 -1.06 L105.3 -3.18M98.98 -14.84 L96.88 -13.78 L94.77 -11.66 L93.72 -8.48 L93.72 -6.36 L94.77 -3.18 L96.88 -1.06 L98.98 0M102.14 -22.26 L106.35 -22.26M105.3 0 L109.51 0M116.88 -12.72 L116.88 -11.66 L115.83 -11.66 L115.83 -12.72 L116.88 -13.78 L118.99 -14.84 L123.2 -14.84 L125.31 -13.78 L126.36 -12.72 L127.41 -10.6 L127.41 -3.18 L128.47 -1.06 L129.52 0M126.36 -12.72 L126.36 -3.18 L127.41 -1.06 L129.52 0 L130.57 0M126.36 -10.6 L125.31 -9.54 L118.99 -8.48 L115.83 -7.42 L114.78 -5.3 L114.78 -3.18 L115.83 -1.06 L118.99 0 L122.15 0 L124.25 -1.06 L126.36 -3.18M118.99 -8.48 L116.88 -7.42 L115.83 -5.3 L115.83 -3.18 L116.88 -1.06 L118.99 0M137.94 -14.84 L137.94 0M139 -14.84 L139 0M139 -11.66 L141.1 -13.78 L144.26 -14.84 L146.37 -14.84 L149.53 -13.78 L150.58 -11.66 L150.58 0M146.37 -14.84 L148.47 -13.78 L149.53 -11.66 L149.53 0M134.78 -14.84 L139 -14.84M134.78 0 L142.16 0M146.37 0 L153.74 0M171.64 -11.66 L170.59 -10.6 L171.64 -9.54 L172.69 -10.6 L172.69 -11.66 L170.59 -13.78 L168.48 -14.84 L165.32 -14.84 L162.16 -13.78 L160.06 -11.66 L159 -8.48 L159 -6.36 L160.06 -3.18 L162.16 -1.06 L165.32 0 L167.43 0 L170.59 -1.06 L172.69 -3.18M165.32 -14.84 L163.22 -13.78 L161.11 -11.66 L160.06 -8.48 L160.06 -6.36 L161.11 -3.18 L163.22 -1.06 L165.32 0M180.06 -8.48 L192.7 -8.48 L192.7 -10.6 L191.65 -12.72 L190.59 -13.78 L188.49 -14.84 L185.33 -14.84 L182.17 -13.78 L180.06 -11.66 L179.01 -8.48 L179.01 -6.36 L180.06 -3.18 L182.17 -1.06 L185.33 0 L187.43 0 L190.59 -1.06 L192.7 -3.18M191.65 -8.48 L191.65 -11.66 L190.59 -13.78M185.33 -14.84 L183.22 -13.78 L181.12 -11.66 L180.06 -8.48 L180.06 -6.36 L181.12 -3.18 L183.22 -1.06 L185.33 0M222.18 -14.84 L219.02 -13.78 L216.92 -11.66 L215.87 -8.48 L215.87 -6.36 L216.92 -3.18 L219.02 -1.06 L222.18 0 L224.29 0 L227.45 -1.06 L229.55 -3.18 L230.61 -6.36 L230.61 -8.48 L229.55 -11.66 L227.45 -13.78 L224.29 -14.84 L222.18 -14.84M222.18 -14.84 L220.08 -13.78 L217.97 -11.66 L216.92 -8.48 L216.92 -6.36 L217.97 -3.18 L220.08 -1.06 L222.18 0M224.29 0 L226.4 -1.06 L228.5 -3.18 L229.55 -6.36 L229.55 -8.48 L228.5 -11.66 L226.4 -13.78 L224.29 -14.84M244.3 -21.2 L243.24 -20.14 L244.3 -19.08 L245.35 -20.14 L245.35 -21.2 L244.3 -22.26 L242.19 -22.26 L240.08 -21.2 L239.03 -19.08 L239.03 0M242.19 -22.26 L241.14 -21.2 L240.08 -19.08 L240.08 0M235.87 -14.84 L244.3 -14.84M235.87 0 L243.24 0M280.1 -11.66 L279.05 -10.6 L280.1 -9.54 L281.15 -10.6 L281.15 -11.66 L279.05 -13.78 L276.94 -14.84 L273.78 -14.84 L270.62 -13.78 L268.51 -11.66 L267.46 -8.48 L267.46 -6.36 L268.51 -3.18 L270.62 -1.06 L273.78 0 L275.89 0 L279.05 -1.06 L281.15 -3.18M273.78 -14.84 L271.67 -13.78 L269.57 -11.66 L268.51 -8.48 L268.51 -6.36 L269.57 -3.18 L271.67 -1.06 L273.78 0M289.57 -22.26 L289.57 0M290.63 -22.26 L290.63 0M286.42 -22.26 L290.63 -22.26M286.42 0 L293.79 0M301.16 -14.84 L301.16 -3.18 L302.21 -1.06 L305.37 0 L307.48 0 L310.64 -1.06 L312.74 -3.18M302.21 -14.84 L302.21 -3.18 L303.26 -1.06 L305.37 0M312.74 -14.84 L312.74 0M313.79 -14.84 L313.79 0M298 -14.84 L302.21 -14.84M309.58 -14.84 L313.79 -14.84M312.74 0 L316.95 0M332.75 -12.72 L333.8 -14.84 L333.8 -10.6 L332.75 -12.72 L331.7 -13.78 L329.59 -14.84 L325.38 -14.84 L323.27 -13.78 L322.22 -12.72 L322.22 -10.6 L323.27 -9.54 L325.38 -8.48 L330.64 -6.36 L332.75 -5.3 L333.8 -4.24M322.22 -11.66 L323.27 -10.6 L325.38 -9.54 L330.64 -7.42 L332.75 -6.36 L333.8 -5.3 L333.8 -2.12 L332.75 -1.06 L330.64 0 L326.43 0 L324.32 -1.06 L323.27 -2.12 L322.22 -4.24 L322.22 0 L323.27 -2.12M342.23 -22.26 L342.23 -4.24 L343.28 -1.06 L345.38 0 L347.49 0 L349.6 -1.06 L350.65 -3.18M343.28 -22.26 L343.28 -4.24 L344.33 -1.06 L345.38 0M339.07 -14.84 L347.49 -14.84M356.97 -8.48 L369.6 -8.48 L369.6 -10.6 L368.55 -12.72 L367.5 -13.78 L365.39 -14.84 L362.23 -14.84 L359.07 -13.78 L356.97 -11.66 L355.91 -8.48 L355.91 -6.36 L356.97 -3.18 L359.07 -1.06 L362.23 0 L364.34 0 L367.5 -1.06 L369.6 -3.18M368.55 -8.48 L368.55 -11.66 L367.5 -13.78M362.23 -14.84 L360.13 -13.78 L358.02 -11.66 L356.97 -8.48 L356.97 -6.36 L358.02 -3.18 L360.13 -1.06 L362.23 0M378.03 -14.84 L378.03 0M379.08 -14.84 L379.08 0M379.08 -8.48 L380.13 -11.66 L382.24 -13.78 L384.35 -14.84 L387.5 -14.84 L388.56 -13.78 L388.56 -12.72 L387.5 -11.66 L386.45 -12.72 L387.5 -13.78M374.87 -14.84 L379.08 -14.84M374.87 0 L382.24 0M395.93 -14.84 L394.88 -13.78 L395.93 -12.72 L396.98 -13.78 L395.93 -14.84M395.93 0 L394.88 -1.06 L395.93 -2.12 L396.98 -1.06 L396.98 1.06 L395.93 3.18 L394.88 4.24M423.31 -22.26 L423.31 0M424.36 -22.26 L424.36 0M420.15 -22.26 L424.36 -22.26M420.15 0 L427.52 0M439.1 -14.84 L435.94 -13.78 L433.84 -11.66 L432.78 -8.48 L432.78 -6.36 L433.84 -3.18 L435.94 -1.06 L439.1 0 L441.21 0 L444.37 -1.06 L446.47 -3.18 L447.53 -6.36 L447.53 -8.48 L446.47 -11.66 L444.37 -13.78 L441.21 -14.84 L439.1 -14.84M439.1 -14.84 L437 -13.78 L434.89 -11.66 L433.84 -8.48 L433.84 -6.36 L434.89 -3.18 L437 -1.06 L439.1 0M441.21 0 L443.31 -1.06 L445.42 -3.18 L446.47 -6.36 L446.47 -8.48 L445.42 -11.66 L443.31 -13.78 L441.21 -14.84M459.11 -14.84 L457 -13.78 L455.95 -12.72 L454.9 -10.6 L454.9 -8.48 L455.95 -6.36 L457 -5.3 L459.11 -4.24 L461.21 -4.24 L463.32 -5.3 L464.37 -6.36 L465.43 -8.48 L465.43 -10.6 L464.37 -12.72 L463.32 -13.78 L461.21 -14.84 L459.11 -14.84M457 -13.78 L455.95 -11.66 L455.95 -7.42 L457 -5.3M463.32 -5.3 L464.37 -7.42 L464.37 -11.66 L463.32 -13.78M464.37 -12.72 L465.43 -13.78 L467.53 -14.84 L467.53 -13.78 L465.43 -13.78M455.95 -6.36 L454.9 -5.3 L453.84 -3.18 L453.84 -2.12 L454.9 0 L458.06 1.06 L463.32 1.06 L466.48 2.12 L467.53 3.18M453.84 -2.12 L454.9 -1.06 L458.06 0 L463.32 0 L466.48 1.06 L467.53 3.18 L467.53 4.24 L466.48 6.36 L463.32 7.42 L457 7.42 L453.84 6.36 L452.79 4.24 L452.79 3.18 L453.84 1.06 L457 0M482.27 -26.5 L480.17 -24.38 L478.06 -21.2 L475.96 -16.96 L474.9 -11.66 L474.9 -7.42 L475.96 -2.12 L478.06 2.12 L480.17 5.3 L482.27 7.42M480.17 -24.38 L478.06 -20.14 L477.01 -16.96 L475.96 -11.66 L475.96 -7.42 L477.01 -2.12 L478.06 1.06 L480.17 5.3M488.59 -22.26 L495.96 -10.6 L495.96 0M489.65 -22.26 L497.02 -10.6 L497.02 0M504.39 -22.26 L497.02 -10.6M486.49 -22.26 L492.8 -22.26M500.18 -22.26 L506.49 -22.26M492.8 0 L500.18 0M511.49 1.27 L511.49 12.4M512.28 1.27 L512.28 12.4M512.28 3.65 L513.86 2.06 L516.23 1.27 L517.81 1.27 L520.18 2.06 L520.97 3.65 L520.97 12.4M517.81 1.27 L519.39 2.06 L520.18 3.65 L520.18 12.4M509.13 1.27 L512.28 1.27M509.13 12.4 L514.65 12.4M517.81 12.4 L523.34 12.4M528.08 -26.5 L530.19 -24.38 L532.29 -21.2 L534.4 -16.96 L535.45 -11.66 L535.45 -7.42 L534.4 -2.12 L532.29 2.12 L530.19 5.3 L528.08 7.42M530.19 -24.38 L532.29 -20.14 L533.34 -16.96 L534.4 -11.66 L534.4 -7.42 L533.34 -2.12 L532.29 1.06 L530.19 5.3" fill="none" stroke="#000" stroke-width="2.4" stroke-linecap="round" stroke-linejoin="round" transform="translate(28.35 538.4) rotate(-90)"/>
<path d="M738.21 51.25 L736.39 53.07 L734.57 55.8 L732.75 59.44 L731.84 63.99 L731.84 67.63 L732.75 72.18 L734.57 75.82 L736.39 78.55 L738.21 80.37M736.39 53.07 L734.57 56.71 L733.66 59.44 L732.75 63.99 L732.75 67.63 L733.66 72.18 L734.57 74.91 L736.39 78.55M745.49 63.08 L745.49 63.99 L744.58 63.99 L744.58 63.08 L745.49 62.17 L747.31 61.26 L750.95 61.26 L752.77 62.17 L753.68 63.08 L754.59 64.9 L754.59 71.27 L755.5 73.09 L756.41 74M753.68 63.08 L753.68 71.27 L754.59 73.09 L756.41 74 L757.32 74M753.68 64.9 L752.77 65.81 L747.31 66.72 L744.58 67.63 L743.67 69.45 L743.67 71.27 L744.58 73.09 L747.31 74 L750.04 74 L751.86 73.09 L753.68 71.27M747.31 66.72 L745.49 67.63 L744.58 69.45 L744.58 71.27 L745.49 73.09 L747.31 74M761.87 51.25 L763.69 53.07 L765.51 55.8 L767.33 59.44 L768.24 63.99 L768.24 67.63 L767.33 72.18 L765.51 75.82 L763.69 78.55 L761.87 80.37M763.69 53.07 L765.51 56.71 L766.42 59.44 L767.33 63.99 L767.33 67.63 L766.42 72.18 L765.51 74.91 L763.69 78.55" fill="none" stroke="#000" stroke-width="2.0" stroke-linecap="round" stroke-linejoin="round"/>
<path d="M247.63 48.46 L247.63 61.2M248.54 48.46 L248.54 61.2M248.54 51.19 L250.36 49.37 L253.09 48.46 L254.91 48.46 L257.64 49.37 L258.55 51.19 L258.55 61.2M254.91 48.46 L256.73 49.37 L257.64 51.19 L257.64 61.2M244.9 48.46 L248.54 48.46M244.9 61.2 L251.27 61.2M254.91 61.2 L261.28 61.2M266.74 50.28 L283.12 50.28M266.74 55.74 L283.12 55.74M292.22 45.73 L294.04 44.82 L296.77 42.09 L296.77 61.2M295.86 43 L295.86 61.2M292.22 61.2 L300.41 61.2" fill="none" stroke="#ff0000" stroke-width="2.0" stroke-linecap="round" stroke-linejoin="round"/>
<path d="M250.84 163.03 L251.78 163.94 L250.84 164.85 L249.9 163.94 L249.9 163.03 L250.84 161.21 L251.78 160.3 L254.6 159.39 L258.36 159.39 L261.18 160.3 L262.12 161.21 L263.06 163.03 L263.06 164.85 L262.12 166.67 L259.3 168.49 L254.6 170.31 L252.72 171.22 L250.84 173.04 L249.9 175.77 L249.9 178.5M258.36 159.39 L260.24 160.3 L261.18 161.21 L262.12 163.03 L262.12 164.85 L261.18 166.67 L258.36 168.49 L254.6 170.31M249.9 176.68 L250.84 175.77 L252.72 175.77 L257.42 177.59 L260.24 177.59 L262.12 176.68 L263.06 175.77M252.72 175.77 L257.42 178.5 L261.18 178.5 L262.12 177.59 L263.06 175.77 L263.06 173.95" fill="none" stroke="#00ff00" stroke-width="2.0" stroke-linecap="round" stroke-linejoin="round"/>
<path d="M249.99 216.33 L250.93 217.24 L249.99 218.15 L249.05 217.24 L249.05 216.33 L249.99 214.51 L250.93 213.6 L253.75 212.69 L257.51 212.69 L260.33 213.6 L261.27 215.42 L261.27 218.15 L260.33 219.97 L257.51 220.88 L254.69 220.88M257.51 212.69 L259.39 213.6 L260.33 215.42 L260.33 218.15 L259.39 219.97 L257.51 220.88M257.51 220.88 L259.39 221.79 L261.27 223.61 L262.21 225.43 L262.21 228.16 L261.27 229.98 L260.33 230.89 L257.51 231.8 L253.75 231.8 L250.93 230.89 L249.99 229.98 L249.05 228.16 L249.05 227.25 L249.99 226.34 L250.93 227.25 L249.99 228.16M260.33 222.7 L261.27 225.43 L261.27 228.16 L260.33 229.98 L259.39 230.89 L257.51 231.8" fill="none" stroke="#0000ff" stroke-width="2.0" stroke-linecap="round" stroke-linejoin="round"/>
<path d="M251.08 288.29 L249.2 297.39M249.2 297.39 L251.08 295.57 L253.9 294.66 L256.72 294.66 L259.54 295.57 L261.42 297.39 L262.36 300.12 L262.36 301.94 L261.42 304.67 L259.54 306.49 L256.72 307.4 L253.9 307.4 L251.08 306.49 L250.14 305.58 L249.2 303.76 L249.2 302.85 L250.14 301.94 L251.08 302.85 L250.14 303.76M256.72 294.66 L258.6 295.57 L260.48 297.39 L261.42 300.12 L261.42 301.94 L260.48 304.67 L258.6 306.49 L256.72 307.4M251.08 288.29 L260.48 288.29M251.08 289.2 L255.78 289.2 L260.48 288.29" fill="none" stroke="#ff00ff" stroke-width="2.0" stroke-linecap="round" stroke-linejoin="round"/>
<path d="M248.8 363.23 L250.67 362.32 L253.47 359.59 L253.47 378.7M252.54 360.5 L252.54 378.7M248.8 378.7 L257.21 378.7M270.31 359.59 L267.5 360.5 L265.63 363.23 L264.69 367.78 L264.69 370.51 L265.63 375.06 L267.5 377.79 L270.31 378.7 L272.18 378.7 L274.98 377.79 L276.85 375.06 L277.78 370.51 L277.78 367.78 L276.85 363.23 L274.98 360.5 L272.18 359.59 L270.31 359.59M270.31 359.59 L268.44 360.5 L267.5 361.41 L266.56 363.23 L265.63 367.78 L265.63 370.51 L266.56 375.06 L267.5 376.88 L268.44 377.79 L270.31 378.7M272.18 378.7 L274.04 377.79 L274.98 376.88 L275.91 375.06 L276.85 370.51 L276.85 367.78 L275.91 363.23 L274.98 361.41 L274.04 360.5 L272.18 359.59" fill="none" stroke="#00ffff" stroke-width="2.0" stroke-linecap="round" stroke-linejoin="round"/>
<path d="M301.33 438.33 L302.27 439.24 L301.33 440.15 L300.4 439.24 L300.4 438.33 L301.33 436.51 L302.27 435.6 L305.07 434.69 L308.81 434.69 L311.62 435.6 L312.55 436.51 L313.49 438.33 L313.49 440.15 L312.55 441.97 L309.75 443.79 L305.07 445.61 L303.2 446.52 L301.33 448.34 L300.4 451.07 L300.4 453.8M308.81 434.69 L310.68 435.6 L311.62 436.51 L312.55 438.33 L312.55 440.15 L311.62 441.97 L308.81 443.79 L305.07 445.61M300.4 451.98 L301.33 451.07 L303.2 451.07 L307.88 452.89 L310.68 452.89 L312.55 451.98 L313.49 451.07M303.2 451.07 L307.88 453.8 L311.62 453.8 L312.55 452.89 L313.49 451.07 L313.49 449.25M324.71 434.69 L321.9 435.6 L320.03 438.33 L319.1 442.88 L319.1 445.61 L320.03 450.16 L321.9 452.89 L324.71 453.8 L326.58 453.8 L329.38 452.89 L331.25 450.16 L332.19 445.61 L332.19 442.88 L331.25 438.33 L329.38 435.6 L326.58 434.69 L324.71 434.69M324.71 434.69 L322.84 435.6 L321.9 436.51 L320.97 438.33 L320.03 442.88 L320.03 445.61 L320.97 450.16 L321.9 451.98 L322.84 452.89 L324.71 453.8M326.58 453.8 L328.45 452.89 L329.38 451.98 L330.32 450.16 L331.25 445.61 L331.25 442.88 L330.32 438.33 L329.38 436.51 L328.45 435.6 L326.58 434.69" fill="none" stroke="#ff8000" stroke-width="2.0" stroke-linecap="round" stroke-linejoin="round"/>
<path d="M359.9 436.53 L361.77 435.62 L364.57 432.89 L364.57 452M363.64 433.8 L363.64 452M359.9 452 L368.31 452M381.4 432.89 L378.6 433.8 L376.73 436.53 L375.79 441.08 L375.79 443.81 L376.73 448.36 L378.6 451.09 L381.4 452 L383.27 452 L386.08 451.09 L387.95 448.36 L388.88 443.81 L388.88 441.08 L387.95 436.53 L386.08 433.8 L383.27 432.89 L381.4 432.89M381.4 432.89 L379.53 433.8 L378.6 434.71 L377.66 436.53 L376.73 441.08 L376.73 443.81 L377.66 448.36 L378.6 450.18 L379.53 451.09 L381.4 452M383.27 452 L385.14 451.09 L386.08 450.18 L387.01 448.36 L387.95 443.81 L387.95 441.08 L387.01 436.53 L386.08 434.71 L385.14 433.8 L383.27 432.89M400.1 432.89 L397.3 433.8 L395.43 436.53 L394.49 441.08 L394.49 443.81 L395.43 448.36 L397.3 451.09 L400.1 452 L401.97 452 L404.78 451.09 L406.65 448.36 L407.58 443.81 L407.58 441.08 L406.65 436.53 L404.78 433.8 L401.97 432.89 L400.1 432.89M400.1 432.89 L398.23 433.8 L397.3 434.71 L396.36 436.53 L395.43 441.08 L395.43 443.81 L396.36 448.36 L397.3 450.18 L398.23 451.09 L400.1 452M401.97 452 L403.84 451.09 L404.78 450.18 L405.71 448.36 L406.65 443.81 L406.65 441.08 L405.71 436.53 L404.78 434.71 L403.84 433.8 L401.97 432.89" fill="none" stroke="#8000ff" stroke-width="2.0" stroke-linecap="round" stroke-linejoin="round"/>
</svg>
</body></html>
